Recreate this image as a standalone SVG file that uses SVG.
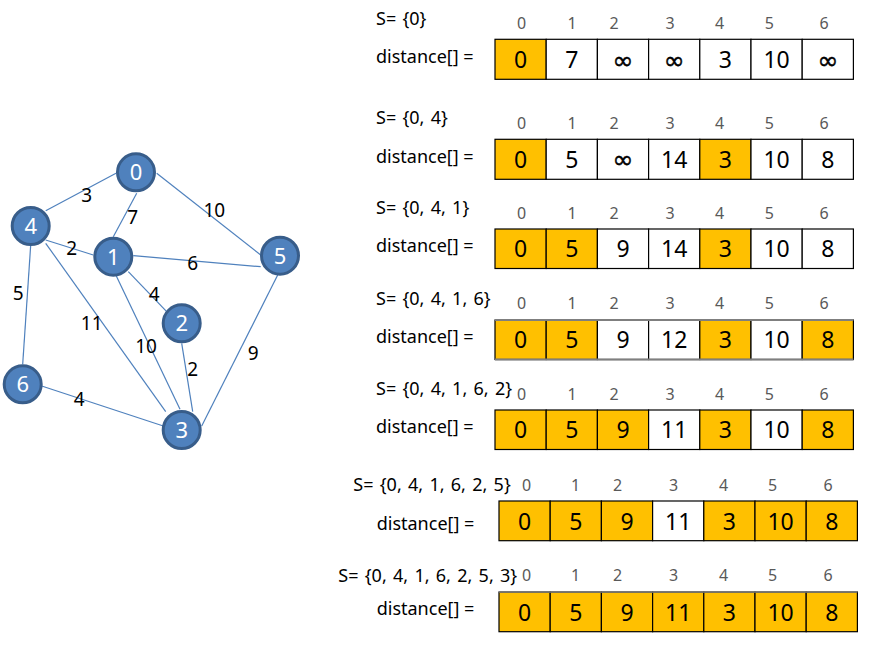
<svg xmlns="http://www.w3.org/2000/svg" width="872" height="646" viewBox="0 0 872 646">
<style>
.edge{stroke:#4F81BD;stroke-width:1.2;fill:none}
.node circle{fill:#4F81BD;stroke:#385D8A;stroke-width:3}
.node text{fill:#fff;font-family:"Noto Sans","Open Sans",sans-serif;font-size:22px;text-anchor:middle}
.el{fill:#000;font-family:"Noto Sans","Open Sans",sans-serif;font-size:19px;text-anchor:middle}
.lbl{fill:#000;font-family:"Noto Sans","Open Sans",sans-serif;font-size:18px}
.s{word-spacing:1.6px}
.idx{fill:#595959;font-family:"Noto Sans","Open Sans",sans-serif;font-size:16px;text-anchor:middle}
.val{fill:#000;font-family:"Noto Sans","Open Sans",sans-serif;font-size:23px;text-anchor:middle}
.inf{fill:#000;stroke:#000;stroke-width:0.45;font-family:"DejaVu Sans",sans-serif;font-size:25px;text-anchor:middle}
.c{stroke:#000;stroke-width:1.2;fill:#fff}
.c.y{fill:#FFC000}
</style>
<rect width="872" height="646" fill="#fff"/>
<g id="connectors">
<line class="edge" x1="116" y1="173.3" x2="45.7" y2="210.7"/>
<line class="edge" x1="136.7" y1="193.3" x2="113.3" y2="236.7"/>
<line class="edge" x1="156.7" y1="173.3" x2="260.7" y2="255"/>
<line class="edge" x1="45.7" y1="240" x2="93.3" y2="255"/>
<line class="edge" x1="133.3" y1="255.7" x2="260.7" y2="266.7"/>
<line class="edge" x1="128.3" y1="271.7" x2="166.7" y2="311.7"/>
<line class="edge" x1="30.7" y1="245" x2="22.7" y2="364.3"/>
<line class="edge" x1="45.7" y1="243.3" x2="165.7" y2="411.7"/>
<line class="edge" x1="115" y1="273.3" x2="180" y2="409.3"/>
<line class="edge" x1="181.7" y1="343.3" x2="192.7" y2="411.7"/>
<line class="edge" x1="277.7" y1="275" x2="201.7" y2="426"/>
<line class="edge" x1="41.7" y1="386" x2="163.3" y2="426"/>
</g>
<g id="edge-labels">
<text class="el" x="86.7" y="202">3</text>
<text class="el" x="132.7" y="223.5">7</text>
<text class="el" x="214.3" y="217">10</text>
<text class="el" x="71.7" y="255">2</text>
<text class="el" x="192.7" y="270">6</text>
<text class="el" x="154.3" y="301">4</text>
<text class="el" x="18.3" y="299.5">5</text>
<text class="el" x="91.7" y="329.5">11</text>
<text class="el" x="146" y="353">10</text>
<text class="el" x="253.3" y="360">9</text>
<text class="el" x="192.7" y="376">2</text>
<text class="el" x="79.3" y="406">4</text>
</g>
<g id="node0" class="node"><circle cx="136" cy="172.3" r="18.5"/><text x="136" y="180.3">0</text></g>
<g id="node1" class="node"><circle cx="113.3" cy="256.7" r="18.5"/><text x="113.3" y="264.7">1</text></g>
<g id="node2" class="node"><circle cx="181.7" cy="323.3" r="18.5"/><text x="181.7" y="331.3">2</text></g>
<g id="node3" class="node"><circle cx="181.7" cy="430" r="18.5"/><text x="181.7" y="438">3</text></g>
<g id="node4" class="node"><circle cx="30.7" cy="226" r="18.5"/><text x="30.7" y="234">4</text></g>
<g id="node5" class="node"><circle cx="280" cy="255.7" r="18.5"/><text x="280" y="263.7">5</text></g>
<g id="node6" class="node"><circle cx="22.7" cy="384.3" r="18.5"/><text x="22.7" y="392.3">6</text></g>

<g id="table1">
<text class="lbl s" x="376" y="25">S= {0}</text>
<text class="lbl" x="376" y="63">distance[] =</text>
<g class="idx"><text x="521.7" y="29.3">0</text><text x="572" y="29.3">1</text><text x="614" y="29.3">2</text><text x="670" y="29.3">3</text><text x="719.5" y="29.3">4</text><text x="769.3" y="29.3">5</text><text x="824" y="29.3">6</text></g>
<rect class="c y" x="495" y="39.3" width="51.2" height="40"/>
<rect class="c" x="546.2" y="39.3" width="51.2" height="40"/>
<rect class="c" x="597.4" y="39.3" width="51.2" height="40"/>
<rect class="c" x="648.6" y="39.3" width="51.2" height="40"/>
<rect class="c" x="699.8" y="39.3" width="51.2" height="40"/>
<rect class="c" x="751" y="39.3" width="51.2" height="40"/>
<rect class="c" x="802.2" y="39.3" width="51.2" height="40"/>
<text class="val" x="520.6" y="68.3">0</text>
<text class="val" x="571.8" y="68.3">7</text>
<text class="inf" x="623" y="68.5">∞</text>
<text class="inf" x="674.2" y="68.5">∞</text>
<text class="val" x="725.4" y="68.3">3</text>
<text class="val" x="776.6" y="68.3">10</text>
<text class="inf" x="827.8" y="68.5">∞</text>
</g>

<g id="table2">
<text class="lbl s" x="376" y="124">S= {0, 4}</text>
<text class="lbl" x="376" y="162.7">distance[] =</text>
<g class="idx"><text x="521.7" y="129.3">0</text><text x="572" y="129.3">1</text><text x="614" y="129.3">2</text><text x="670" y="129.3">3</text><text x="719.5" y="129.3">4</text><text x="769.3" y="129.3">5</text><text x="824" y="129.3">6</text></g>
<rect class="c y" x="495" y="139.3" width="51.2" height="40"/>
<rect class="c" x="546.2" y="139.3" width="51.2" height="40"/>
<rect class="c" x="597.4" y="139.3" width="51.2" height="40"/>
<rect class="c" x="648.6" y="139.3" width="51.2" height="40"/>
<rect class="c y" x="699.8" y="139.3" width="51.2" height="40"/>
<rect class="c" x="751" y="139.3" width="51.2" height="40"/>
<rect class="c" x="802.2" y="139.3" width="51.2" height="40"/>
<text class="val" x="520.6" y="167.5">0</text>
<text class="val" x="571.8" y="167.5">5</text>
<text class="inf" x="623" y="168">∞</text>
<text class="val" x="674.2" y="167.5">14</text>
<text class="val" x="725.4" y="167.5">3</text>
<text class="val" x="776.6" y="167.5">10</text>
<text class="val" x="827.8" y="167.5">8</text>
</g>

<g id="table3">
<text class="lbl s" x="376" y="214">S= {0, 4, 1}</text>
<text class="lbl" x="376" y="251.5">distance[] =</text>
<g class="idx"><text x="521.7" y="219.3">0</text><text x="572" y="219.3">1</text><text x="614" y="219.3">2</text><text x="670" y="219.3">3</text><text x="719.5" y="219.3">4</text><text x="769.3" y="219.3">5</text><text x="824" y="219.3">6</text></g>
<rect class="c y" x="495" y="229" width="51.2" height="39.5"/>
<rect class="c y" x="546.2" y="229" width="51.2" height="39.5"/>
<rect class="c" x="597.4" y="229" width="51.2" height="39.5"/>
<rect class="c" x="648.6" y="229" width="51.2" height="39.5"/>
<rect class="c y" x="699.8" y="229" width="51.2" height="39.5"/>
<rect class="c" x="751" y="229" width="51.2" height="39.5"/>
<rect class="c" x="802.2" y="229" width="51.2" height="39.5"/>
<text class="val" x="520.6" y="257.3">0</text>
<text class="val" x="571.8" y="257.3">5</text>
<text class="val" x="623" y="257.3">9</text>
<text class="val" x="674.2" y="257.3">14</text>
<text class="val" x="725.4" y="257.3">3</text>
<text class="val" x="776.6" y="257.3">10</text>
<text class="val" x="827.8" y="257.3">8</text>
</g>

<g id="table4">
<text class="lbl s" x="376" y="305">S= {0, 4, 1, 6}</text>
<text class="lbl" x="376" y="343">distance[] =</text>
<g class="idx"><text x="521.7" y="309.3">0</text><text x="572" y="309.3">1</text><text x="614" y="309.3">2</text><text x="670" y="309.3">3</text><text x="719.5" y="309.3">4</text><text x="769.3" y="309.3">5</text><text x="824" y="309.3">6</text></g>
<rect class="c y" x="495" y="320" width="51.2" height="39.5"/>
<rect class="c y" x="546.2" y="320" width="51.2" height="39.5"/>
<rect class="c" x="597.4" y="320" width="51.2" height="39.5"/>
<rect class="c" x="648.6" y="320" width="51.2" height="39.5"/>
<rect class="c y" x="699.8" y="320" width="51.2" height="39.5"/>
<rect class="c" x="751" y="320" width="51.2" height="39.5"/>
<rect class="c y" x="802.2" y="320" width="51.2" height="39.5"/>
<line x1="495" y1="320" x2="853.4" y2="320" stroke="#7F7F7F" stroke-width="2"/>
<line x1="495" y1="359.5" x2="853.4" y2="359.5" stroke="#7F7F7F" stroke-width="2"/>
<text class="val" x="520.6" y="348.3">0</text>
<text class="val" x="571.8" y="348.3">5</text>
<text class="val" x="623" y="348.3">9</text>
<text class="val" x="674.2" y="348.3">12</text>
<text class="val" x="725.4" y="348.3">3</text>
<text class="val" x="776.6" y="348.3">10</text>
<text class="val" x="827.8" y="348.3">8</text>
</g>

<g id="table5">
<text class="lbl s" x="376" y="395">S= {0, 4, 1, 6, 2}</text>
<text class="lbl" x="376" y="433.3">distance[] =</text>
<g class="idx"><text x="521.7" y="400">0</text><text x="572" y="400">1</text><text x="614" y="400">2</text><text x="670" y="400">3</text><text x="719.5" y="400">4</text><text x="769.3" y="400">5</text><text x="824" y="400">6</text></g>
<rect class="c y" x="495" y="410" width="51.2" height="39.5"/>
<rect class="c y" x="546.2" y="410" width="51.2" height="39.5"/>
<rect class="c y" x="597.4" y="410" width="51.2" height="39.5"/>
<rect class="c" x="648.6" y="410" width="51.2" height="39.5"/>
<rect class="c y" x="699.8" y="410" width="51.2" height="39.5"/>
<rect class="c" x="751" y="410" width="51.2" height="39.5"/>
<rect class="c y" x="802.2" y="410" width="51.2" height="39.5"/>
<text class="val" x="520.6" y="438.3">0</text>
<text class="val" x="571.8" y="438.3">5</text>
<text class="val" x="623" y="438.3">9</text>
<text class="val" x="674.2" y="438.3">11</text>
<text class="val" x="725.4" y="438.3">3</text>
<text class="val" x="776.6" y="438.3">10</text>
<text class="val" x="827.8" y="438.3">8</text>
</g>

<g id="table6">
<text class="lbl s" x="353.3" y="491">S= {0, 4, 1, 6, 2, 5}</text>
<text class="lbl" x="376.7" y="530">distance[] =</text>
<g class="idx"><text x="526.7" y="490.5">0</text><text x="575.7" y="490.5">1</text><text x="617.7" y="490.5">2</text><text x="673.5" y="490.5">3</text><text x="723.5" y="490.5">4</text><text x="772.7" y="490.5">5</text><text x="828" y="490.5">6</text></g>
<rect class="c y" x="499" y="501" width="51.2" height="39.7"/>
<rect class="c y" x="550.2" y="501" width="51.2" height="39.7"/>
<rect class="c y" x="601.4" y="501" width="51.2" height="39.7"/>
<rect class="c" x="652.6" y="501" width="51.2" height="39.7"/>
<rect class="c y" x="703.8" y="501" width="51.2" height="39.7"/>
<rect class="c y" x="755" y="501" width="51.2" height="39.7"/>
<rect class="c y" x="806.2" y="501" width="51.2" height="39.7"/>
<text class="val" x="524.6" y="529.5">0</text>
<text class="val" x="575.8" y="529.5">5</text>
<text class="val" x="627" y="529.5">9</text>
<text class="val" x="678.2" y="529.5">11</text>
<text class="val" x="729.4" y="529.5">3</text>
<text class="val" x="780.6" y="529.5">10</text>
<text class="val" x="831.8" y="529.5">8</text>
</g>

<g id="table7">
<text class="lbl s" x="338.3" y="581.7">S= {0, 4, 1, 6, 2, 5, 3}</text>
<text class="lbl" x="376.7" y="615">distance[] =</text>
<g class="idx"><text x="526.7" y="580.7">0</text><text x="575.7" y="580.7">1</text><text x="617.7" y="580.7">2</text><text x="673.5" y="580.7">3</text><text x="723.5" y="580.7">4</text><text x="772.7" y="580.7">5</text><text x="828" y="580.7">6</text></g>
<rect class="c y" x="499" y="592" width="51.2" height="39.7"/>
<rect class="c y" x="550.2" y="592" width="51.2" height="39.7"/>
<rect class="c y" x="601.4" y="592" width="51.2" height="39.7"/>
<rect class="c y" x="652.6" y="592" width="51.2" height="39.7"/>
<rect class="c y" x="703.8" y="592" width="51.2" height="39.7"/>
<rect class="c y" x="755" y="592" width="51.2" height="39.7"/>
<rect class="c y" x="806.2" y="592" width="51.2" height="39.7"/>
<line x1="499" y1="592" x2="857.4" y2="592" stroke="#7F7F7F" stroke-width="1.5"/>
<text class="val" x="524.6" y="620.5">0</text>
<text class="val" x="575.8" y="620.5">5</text>
<text class="val" x="627" y="620.5">9</text>
<text class="val" x="678.2" y="620.5">11</text>
<text class="val" x="729.4" y="620.5">3</text>
<text class="val" x="780.6" y="620.5">10</text>
<text class="val" x="831.8" y="620.5">8</text>
</g>
</svg>
